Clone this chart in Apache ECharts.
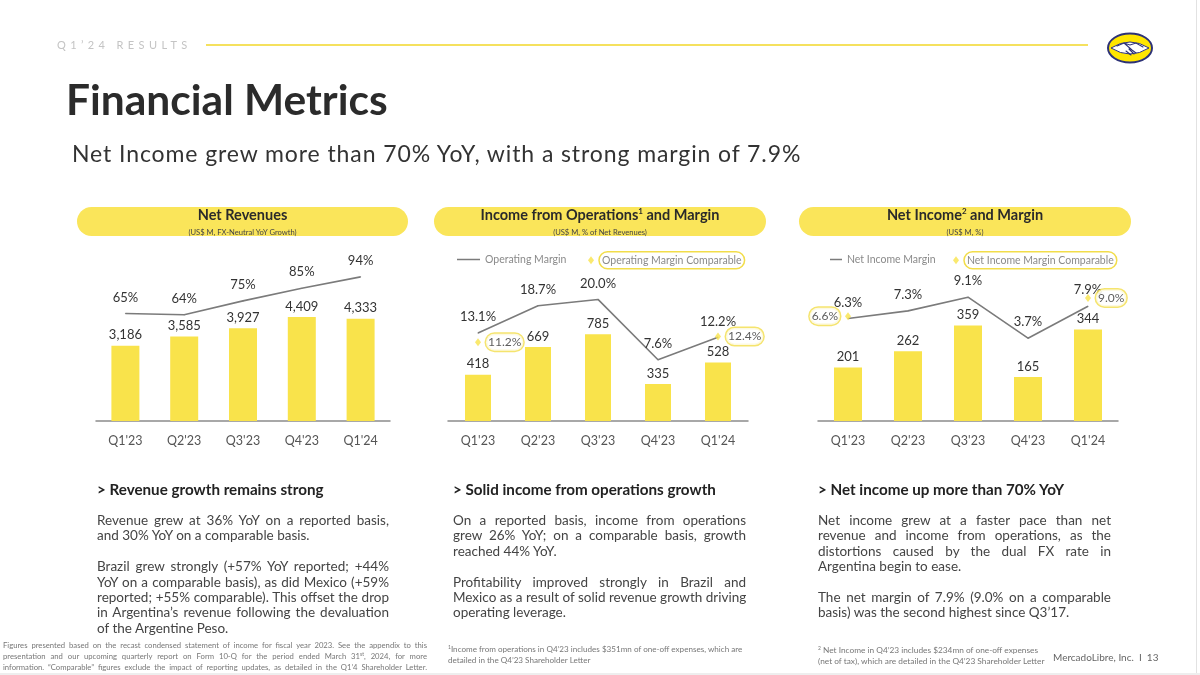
<!DOCTYPE html>
<html>
<head>
<meta charset="utf-8">
<script src="https://cdn.jsdelivr.net/npm/echarts@6/dist/echarts.min.js"></script>
<style>
  html, body { margin:0; padding:0; background:#fff; }
  body { width:1200px; height:675px; position:relative; overflow:hidden; font-family: Lato, "Open Sans", sans-serif; color:#333; }
  #chart { position:absolute; left:0; top:0; width:1200px; height:675px; }
  .abs { position:absolute; }
  .pill { position:absolute; height:29px; border-radius:15px; background:#FAE55A; text-align:center; }
  .pill .t { position:absolute; left:0; right:0; top:0px; font-weight:700; font-size:14.5px; color:#2a2a2a; line-height:16px; }
  .pill .t sup { font-size:8px; vertical-align: 6px; line-height:0; }
  .pill .s { position:absolute; left:0; right:0; font-size:7.6px; color:#444; line-height:9px; }
  .col { position:absolute; font-size:13.5px; line-height:15.4px; color:#444; }
  .col h3 { margin:0; font-size:15.2px; font-weight:700; color:#222; line-height:18px; text-align:left; }
  .col .j { text-align:justify; text-align-last:justify; white-space:nowrap; }
  .col .l { text-align:left; white-space:nowrap; }
  .col .gap { height:15.4px; }
  .fn { position:absolute; font-size:7.7px; line-height:11px; color:#777; }
  .fn .j { text-align:justify; text-align-last:justify; white-space:nowrap; }
  .fn .l { white-space:nowrap; }
  .fn sup { font-size:5px; vertical-align: 3px; line-height:0; }
</style>
</head>
<body>
<div id="chart"></div>

<!-- slide header -->
<div class="abs" style="left:57px; top:37px; font-size:11px; letter-spacing:4.4px; color:#c4c4c4; line-height:16px;">Q1’24 RESULTS</div>
<div class="abs" style="left:206px; top:44px; width:882px; height:2px; background:#F5E15E;"></div>
<svg class="abs" style="left:1105px; top:31px;" width="50" height="34" viewBox="0 0 50 34">
  <ellipse cx="25" cy="17" rx="22" ry="14.5" fill="#FFE600" stroke="#2D3277" stroke-width="2"/>
  <path d="M6,17 Q25,5 44,17 Q25,29 6,17 Z" fill="#fff" stroke="#2D3277" stroke-width="1"/>
  <path d="M12,15 L19,12 L25,14 L31,12 L38,16 M19,12 L27,19 L31,22 M24,18 L29,23 M21,20 L26,24" fill="none" stroke="#2D3277" stroke-width="1.1" stroke-linecap="round"/>
</svg>
<div class="abs" style="left:66px; top:73px; font-size:42.5px; font-weight:700; color:#2b2b2b; line-height:52px;">Financial Metrics</div>
<div class="abs" style="left:72px; top:138px; font-size:23px; letter-spacing:0.9px; color:#333; line-height:30px;">Net Income grew more than 70% YoY, with a strong margin of 7.9%</div>
<div class="abs" style="left:1196px; top:0; width:1px; height:675px; background:#e2e2e2;"></div>
<div class="abs" style="left:0; top:673px; width:1200px; height:2px; background:#eeeeee;"></div>

<!-- chart headers -->
<div class="pill" style="left:77px; top:207px; width:331px;"><div class="t" style="top:0px;">Net Revenues</div><div class="s" style="top:21px;">(US$ M, FX-Neutral YoY Growth)</div></div>
<div class="pill" style="left:434px; top:207px; width:332px;"><div class="t" style="top:0px;">Income from Operations<sup>1</sup> and Margin</div><div class="s" style="top:21px;">(US$ M, % of Net Revenues)</div></div>
<div class="pill" style="left:799px; top:207px; width:332px;"><div class="t" style="top:0px;">Net Income<sup>2</sup> and Margin</div><div class="s" style="top:21px;">(US$ M, %)</div></div>

<!-- commentary -->
<div class="col" style="left:97px; top:480px; width:292px;">
  <h3>&gt; Revenue growth remains strong</h3>
  <div style="height:15px"></div>
  <div class="j">Revenue grew at 36% YoY on a reported basis,</div>
  <div class="l">and 30% YoY on a comparable basis.</div>
  <div class="gap"></div>
  <div class="j">Brazil grew strongly (+57% YoY reported; +44%</div>
  <div class="j">YoY on a comparable basis), as did Mexico (+59%</div>
  <div class="j">reported; +55% comparable). This offset the drop</div>
  <div class="j">in Argentina’s revenue following the devaluation</div>
  <div class="l">of the Argentine Peso.</div>
</div>
<div class="col" style="left:453px; top:480px; width:293px;">
  <h3>&gt; Solid income from operations growth</h3>
  <div style="height:15px"></div>
  <div class="j">On a reported basis, income from operations</div>
  <div class="j">grew 26% YoY; on a comparable basis, growth</div>
  <div class="l">reached 44% YoY.</div>
  <div class="gap"></div>
  <div class="j">Profitability improved strongly in Brazil and</div>
  <div class="j">Mexico as a result of solid revenue growth driving</div>
  <div class="l">operating leverage.</div>
</div>
<div class="col" style="left:818px; top:480px; width:293px;">
  <h3>&gt; Net income up more than 70% YoY</h3>
  <div style="height:15px"></div>
  <div class="j">Net income grew at a faster pace than net</div>
  <div class="j">revenue and income from operations, as the</div>
  <div class="j">distortions caused by the dual FX rate in</div>
  <div class="l">Argentina begin to ease.</div>
  <div class="gap"></div>
  <div class="j">The net margin of 7.9% (9.0% on a comparable</div>
  <div class="l">basis) was the second highest since Q3’17.</div>
</div>

<!-- footnotes -->
<div class="fn" style="left:3px; top:640px; width:424px;">
  <div class="j">Figures presented based on the recast condensed statement of income for fiscal year 2023. See the appendix to this</div>
  <div class="j">presentation and our upcoming quarterly report on Form 10-Q for the period ended March 31<sup>st</sup>, 2024, for more</div>
  <div class="j">information. “Comparable” figures exclude the impact of reporting updates, as detailed in the Q1’4 Shareholder Letter.</div>
</div>
<div class="fn" style="left:448px; top:644px; width:310px; font-size:8.1px;">
  <div class="l"><sup>1</sup>Income from operations in Q4’23 includes $351mn of one-off expenses, which are</div>
  <div class="l">detailed in the Q4’23 Shareholder Letter</div>
</div>
<div class="fn" style="left:818px; top:645px; width:240px; font-size:8.3px;">
  <div class="l"><sup>2</sup> Net Income in Q4’23 includes $234mn of one-off expenses</div>
  <div class="l">(net of tax), which are detailed in the Q4’23 Shareholder Letter</div>
</div>
<div class="abs" style="left:1053px; top:650px; font-size:10px; color:#666; line-height:14px;">MercadoLibre, Inc.&nbsp; I&nbsp; 13</div>

<script>
// ---- data ----
const quarters = ["Q1'23", "Q2'23", "Q3'23", "Q4'23", "Q1'24"];
const netRevenues = [3186, 3585, 3927, 4409, 4333];
const fxNeutralGrowth = [65, 64, 75, 85, 94];
const incomeFromOperations = [418, 669, 785, 335, 528];
const operatingMargin = [13.1, 18.7, 20.0, 7.6, 12.2];
const operatingMarginComparable = [11.2, null, null, null, 12.4];
const netIncome = [201, 262, 359, 165, 344];
const netIncomeMargin = [6.3, 7.3, 9.1, 3.7, 7.9];
const netIncomeMarginComparable = [6.6, null, null, null, 9.0];

// ---- styles ----
const YELLOW = '#F9E34B';
const LINE = '#7b7b7b';
const GRAY_TXT = '#333';
const grids = [
  { left: 96, top: 244, width: 294, height: 177 },
  { left: 448, top: 244, width: 300, height: 177 },
  { left: 818, top: 244, width: 300, height: 177 }
];
const barAxisMax = [7500, 1600, 665];
const lineAxisRange = [[-20, 120], [-5, 31.4], [-7.2, 16.1]];
const barWidths = [28, 26, 28];

const xAxes = grids.map((g, i) => ({
  type: 'category', gridIndex: i, data: quarters,
  axisLine: { lineStyle: { color: '#8c8c8c', width: 1.5 } },
  axisTick: { show: false },
  axisLabel: { color: '#555', fontSize: 12.5, margin: 13, fontFamily: 'Lato' }
}));
const yAxes = [];
grids.forEach((g, i) => {
  yAxes.push({ type: 'value', gridIndex: i, min: 0, max: barAxisMax[i], show: false, splitLine: { show: false } });
  yAxes.push({ type: 'value', gridIndex: i, min: lineAxisRange[i][0], max: lineAxisRange[i][1], show: false, splitLine: { show: false } });
});

const barLabel = {
  show: true, position: 'top', distance: 4, color: GRAY_TXT, fontSize: 13, fontFamily: 'Lato',
  formatter: p => p.value.toLocaleString('en-US')
};
const lineLabel = (fmt) => ({
  show: true, position: 'top', distance: 9, color: GRAY_TXT, fontSize: 13, fontFamily: 'Lato', formatter: fmt
});
const pctInt = p => p.value + '%';
const pct1 = p => p.value.toFixed(1) + '%';

function barSeries(name, data, i) {
  return { name, type: 'bar', xAxisIndex: i, yAxisIndex: i * 2, data, barWidth: barWidths[i],
    itemStyle: { color: YELLOW }, label: barLabel, z: 2 };
}
function lineSeries(name, data, i, fmt) {
  return { name, type: 'line', xAxisIndex: i, yAxisIndex: i * 2 + 1, data,
    symbol: 'circle', symbolSize: 1, itemStyle: { color: LINE },
    lineStyle: { color: LINE, width: 1.6 }, label: lineLabel(fmt), z: 3 };
}
const boxLabel = {
  show: true, color: GRAY_TXT, fontSize: 12, fontFamily: 'Lato', distance: 5,
  borderColor: '#F2DD4A', borderWidth: 1.5, borderRadius: 9, padding: [3, 2, 2, 2],
  backgroundColor: '#fff', formatter: pct1
};
function compSeries(name, data, i, sides) {
  return { name, type: 'scatter', xAxisIndex: i, yAxisIndex: i * 2 + 1,
    symbol: 'diamond', symbolSize: [6, 8], itemStyle: { color: YELLOW }, z: 4,
    data: data.map((v, k) => v == null ? '-' : { value: v, label: Object.assign({}, boxLabel, { position: sides[k] || 'right' }) }) };
}

function legendItem(name, left, top, opts) {
  return Object.assign({
    data: [name], left, top, padding: 0, selectedMode: false,
    textStyle: { color: '#8a8a8a', fontSize: 10.5, fontFamily: 'Lato' }
  }, opts);
}
const boxedText = { color: '#8a8a8a', fontSize: 10.5, fontFamily: 'Lato', borderColor: '#F2DD4A', borderWidth: 1.5, borderRadius: 9, padding: [3, 3, 3, 3] };

const option = {
  animation: false,
  grid: grids,
  xAxis: xAxes,
  yAxis: yAxes,
  legend: [
    legendItem('Operating Margin', 457, 254, { icon: 'rect', itemWidth: 23, itemHeight: 1.5 }),
    legendItem('Operating Margin Comparable', 588, 251, { icon: 'diamond', itemWidth: 6, itemHeight: 8, textStyle: boxedText }),
    legendItem('Net Income Margin', 830, 254, { icon: 'rect', itemWidth: 12, itemHeight: 1.5 }),
    legendItem('Net Income Margin Comparable', 953, 251, { icon: 'diamond', itemWidth: 6, itemHeight: 8, textStyle: boxedText })
  ],
  series: [
    barSeries('Net Revenues', netRevenues, 0),
    lineSeries('FX-Neutral YoY Growth', fxNeutralGrowth, 0, pctInt),
    barSeries('Income from Operations', incomeFromOperations, 1),
    lineSeries('Operating Margin', operatingMargin, 1, pct1),
    compSeries('Operating Margin Comparable', operatingMarginComparable, 1, ['right', null, null, null, 'right']),
    barSeries('Net Income', netIncome, 2),
    lineSeries('Net Income Margin', netIncomeMargin, 2, pct1),
    compSeries('Net Income Margin Comparable', netIncomeMarginComparable, 2, ['left', null, null, null, 'right'])
  ]
};
const chart = echarts.init(document.getElementById('chart'), null, { renderer: 'canvas' });
chart.setOption(option);
</script>
</body>
</html>
